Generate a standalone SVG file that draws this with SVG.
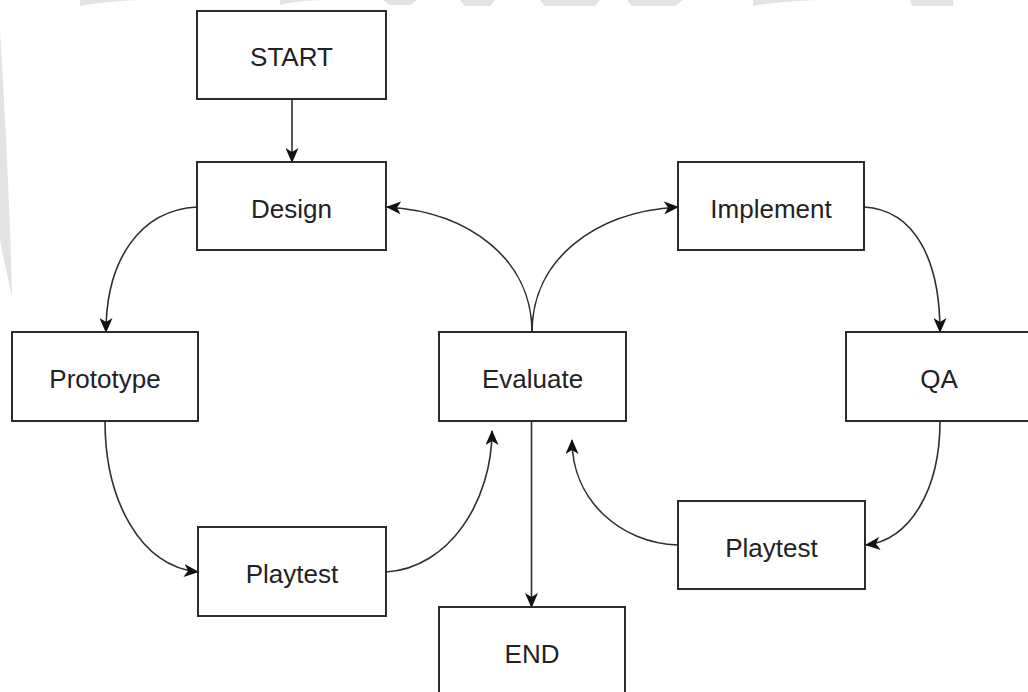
<svg xmlns="http://www.w3.org/2000/svg" width="1028" height="692" viewBox="0 0 1028 692">
<style>
.box{fill:#fff;stroke:#222;stroke-width:1.9}
.lbl{font-family:"Liberation Sans",Arial,sans-serif;font-size:26px;fill:#222;text-anchor:middle}
.edge{fill:none;stroke:#2e2e2e;stroke-width:1.6}
.wm{fill:#e3e3e3;stroke:none}
</style>
<defs>
<marker id="arr" viewBox="0 0 15 13" refX="14" refY="6.5" markerWidth="15" markerHeight="13" markerUnits="userSpaceOnUse" orient="auto">
<path d="M0,0 L15,6.5 L0,13 L4,6.5 z" fill="#111"/>
</marker>
</defs>
<rect width="1028" height="692" fill="#fff"/>
<g id="watermark">
<path class="wm" d="M80,6 C100,2 120,1 140,0 L80,0 z"/>
<path class="wm" d="M280,5 C300,0 320,0 335,0 L280,0 z"/>
<path class="wm" d="M383,0 L417,0 L410,5 L390,5 z"/>
<path class="wm" d="M460,0 L495,0 L490,6 L465,6 z"/>
<path class="wm" d="M540,0 L600,0 L595,6 L545,6 z"/>
<path class="wm" d="M627,0 L683,0 L675,6 L632,6 z"/>
<path class="wm" d="M753,6 C775,2 800,1 817,0 L753,0 z"/>
<path class="wm" d="M910,0 L953,0 L953,6 L912,6 z"/>
<path class="wm" d="M0,30 C4,100 10,200 12,297 C6,270 2,250 0,240 z"/>
</g>
<g id="connectors">
<path class="edge" d="M292,99 L292,162" marker-end="url(#arr)"/>
<path class="edge" d="M197,207 C140,210 106,260 106,332" marker-end="url(#arr)"/>
<path class="edge" d="M532,332 C532,260 470,212 387,207" marker-end="url(#arr)"/>
<path class="edge" d="M532,332 C532,260 594,212 678,207" marker-end="url(#arr)"/>
<path class="edge" d="M864,207 C915,210 940,260 940,332" marker-end="url(#arr)"/>
<path class="edge" d="M105,421 C105,500 140,566 198,572" marker-end="url(#arr)"/>
<path class="edge" d="M386,572 C450,568 492,500 492,431" marker-end="url(#arr)"/>
<path class="edge" d="M678,545 C620,543 572,500 572,440" marker-end="url(#arr)"/>
<path class="edge" d="M940,421 C940,490 910,540 866,545" marker-end="url(#arr)"/>
<path class="edge" d="M531.5,421 L531.5,607" marker-end="url(#arr)"/>
</g>
<g id="start"><rect class="box" x="197" y="11" width="189" height="88"/><text class="lbl" x="291.5" y="66">START</text></g>
<g id="design"><rect class="box" x="197" y="162" width="189" height="88"/><text class="lbl" x="291.5" y="218">Design</text></g>
<g id="prototype"><rect class="box" x="12" y="332" width="186" height="89"/><text class="lbl" x="105" y="388">Prototype</text></g>
<g id="evaluate"><rect class="box" x="439" y="332" width="187" height="89"/><text class="lbl" x="532.5" y="388">Evaluate</text></g>
<g id="implement"><rect class="box" x="678" y="162" width="186" height="88"/><text class="lbl" x="771" y="218">Implement</text></g>
<g id="qa"><rect class="box" x="846" y="332" width="186" height="89"/><text class="lbl" x="939" y="388">QA</text></g>
<g id="playtest1"><rect class="box" x="198" y="527" width="188" height="89"/><text class="lbl" x="292" y="583">Playtest</text></g>
<g id="playtest2"><rect class="box" x="678" y="501" width="187" height="88"/><text class="lbl" x="771.5" y="557">Playtest</text></g>
<g id="end"><rect class="box" x="439" y="607" width="186" height="89"/><text class="lbl" x="532" y="663">END</text></g>
</svg>
